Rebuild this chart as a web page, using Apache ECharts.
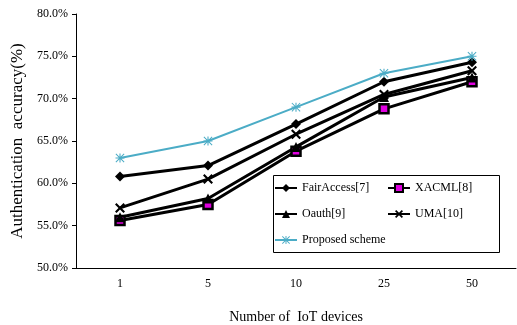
<!DOCTYPE html>
<html><head><meta charset="utf-8">
<script src="https://cdn.jsdelivr.net/npm/echarts@6/dist/echarts.min.js"></script>
<style>html,body{margin:0;padding:0;background:#fff}#c{width:517px;height:325px}</style>
</head><body><div id="c"></div>
<script>
const categories = ['1','5','10','25','50'];
const fairAccess = [60.8, 62.1, 67.0, 72.0, 74.3];
const xacml = [55.6, 57.5, 63.8, 68.8, 72.0];
const oauth = [56.0, 58.2, 64.3, 70.2, 72.5];
const uma = [57.1, 60.5, 65.8, 70.5, 73.3];
const proposed = [63.0, 65.0, 69.0, 73.0, 75.0];
const seriesNames = ['FairAccess[7]','XACML[8]','Oauth[9]','UMA[10]','Proposed scheme'];

const FONT = '"Liberation Serif","Times New Roman",serif';
const xSym = 'path://M0,1.5 L1.5,0 L5,3.5 L8.5,0 L10,1.5 L6.5,5 L10,8.5 L8.5,10 L5,6.5 L1.5,10 L0,8.5 L3.5,5 Z';
const starSym = 'path://M4.4,0 L5.6,0 L5.6,10 L4.4,10 Z M0,4.4 L10,4.4 L10,5.6 L0,5.6 Z M0.8,0 L10,9.2 L9.2,10 L0,0.8 Z M9.2,0 L10,0.8 L0.8,10 L0,9.2 Z';

function blk(name, data, symbol, size, extra) {
  return Object.assign({
    name, type: 'line', data, symbol, symbolSize: size,
    lineStyle: {color: '#000', width: 3},
    itemStyle: {color: '#000'},
    z: 3
  }, extra || {});
}

const chart = echarts.init(document.getElementById('c'));
chart.setOption({
  animation: false,
  grid: {left: 76, right: 1, top: 14, bottom: 57, containLabel: false, outerBoundsMode: 'none'},
  xAxis: {
    type: 'category', data: categories, boundaryGap: true,
    name: 'Number of  IoT devices', nameLocation: 'middle', nameGap: 42,
    nameTextStyle: {fontFamily: FONT, fontSize: 14, color: '#000'},
    axisLine: {lineStyle: {color: '#000', width: 1}},
    axisTick: {inside: true, length: 5, lineStyle: {color: '#000'}},
    axisLabel: {fontFamily: FONT, fontSize: 12, color: '#000', margin: 10}
  },
  yAxis: {
    type: 'value', min: 50, max: 80, interval: 5,
    name: 'Authentication  accuracy(%)', nameLocation: 'middle', nameGap: 48,
    nameTextStyle: {fontFamily: FONT, fontSize: 17, color: '#000'},
    axisLine: {show: true, lineStyle: {color: '#000', width: 1}},
    axisTick: {show: true, length: 4, lineStyle: {color: '#000'}},
    splitLine: {show: false},
    axisLabel: {fontFamily: FONT, fontSize: 12, color: '#000', margin: 8,
      formatter: v => v.toFixed(1) + '%'}
  },
  legend: [
    {data: [seriesNames[0], seriesNames[2], seriesNames[4]], orient: 'vertical',
     left: 274, top: 182, itemGap: 14, itemWidth: 22, itemHeight: 10, padding: 0,
     textStyle: {fontFamily: FONT, fontSize: 12, color: '#000'}},
    {data: [seriesNames[1], seriesNames[3]], orient: 'vertical',
     left: 387, top: 182, itemGap: 14, itemWidth: 22, itemHeight: 10, padding: 0,
     textStyle: {fontFamily: FONT, fontSize: 12, color: '#000'}}
  ],
  graphic: [{type: 'rect', shape: {x: 273.5, y: 175.5, width: 226, height: 77},
    style: {fill: 'none', stroke: '#000', lineWidth: 1}, z: 1}],
  series: [
    blk(seriesNames[0], fairAccess, 'diamond', 10),
    blk(seriesNames[1], xacml, 'rect', 9, {itemStyle: {color: '#e000e0', borderColor: '#000', borderWidth: 2.5}}),
    blk(seriesNames[2], oauth, 'triangle', 10),
    blk(seriesNames[3], uma, xSym, 10),
    {name: seriesNames[4], type: 'line', data: proposed, symbol: starSym, symbolSize: 9,
     lineStyle: {color: '#4BACC6', width: 2}, itemStyle: {color: '#4BACC6'}, z: 4}
  ]
});
</script></body></html>
